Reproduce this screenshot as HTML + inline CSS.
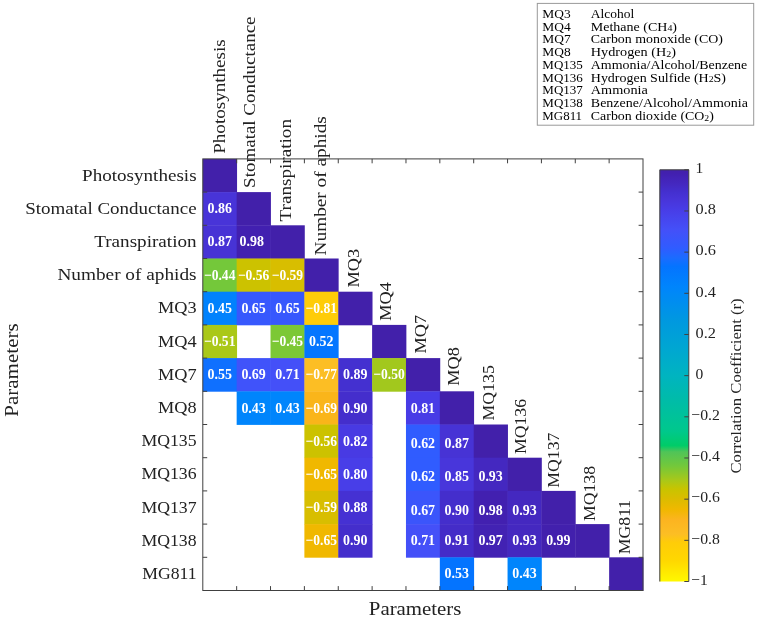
<!DOCTYPE html>
<html><head><meta charset="utf-8"><style>
html,body{margin:0;padding:0;background:#fff;}
svg{display:block;will-change:transform;}
text{font-family:"Liberation Serif",serif;}
</style></head><body>
<svg width="757" height="623" viewBox="0 0 757 623">
<rect x="0" y="0" width="757" height="623" fill="#fff"/>

<rect x="202.80" y="158.90" width="34.26" height="33.60" fill="#4220aa"/>
<rect x="202.80" y="192.10" width="34.26" height="33.60" fill="#4834d8"/>
<rect x="236.66" y="192.10" width="34.26" height="33.60" fill="#4220aa"/>
<rect x="202.80" y="225.30" width="34.26" height="33.60" fill="#4733d5"/>
<rect x="236.66" y="225.30" width="34.26" height="33.60" fill="#4220b0"/>
<rect x="270.52" y="225.30" width="34.26" height="33.60" fill="#4220aa"/>
<rect x="202.80" y="258.50" width="34.26" height="33.60" fill="#74c83a"/>
<rect x="236.66" y="258.50" width="34.26" height="33.60" fill="#ccc200"/>
<rect x="270.52" y="258.50" width="34.26" height="33.60" fill="#d8be00"/>
<rect x="304.38" y="258.50" width="34.26" height="33.60" fill="#4220aa"/>
<rect x="202.80" y="291.70" width="34.26" height="33.60" fill="#0182fd"/>
<rect x="236.66" y="291.70" width="34.26" height="33.60" fill="#3758fd"/>
<rect x="270.52" y="291.70" width="34.26" height="33.60" fill="#3758fd"/>
<rect x="304.38" y="291.70" width="34.26" height="33.60" fill="#ffcc08"/>
<rect x="338.25" y="291.70" width="34.26" height="33.60" fill="#4220aa"/>
<rect x="202.80" y="324.90" width="34.26" height="33.60" fill="#aac818"/>
<rect x="270.52" y="324.90" width="34.26" height="33.60" fill="#7cc835"/>
<rect x="304.38" y="324.90" width="34.26" height="33.60" fill="#0476ff"/>
<rect x="372.11" y="324.90" width="34.26" height="33.60" fill="#4220aa"/>
<rect x="202.80" y="358.10" width="34.26" height="33.60" fill="#0f70ff"/>
<rect x="236.66" y="358.10" width="34.26" height="33.60" fill="#4053fa"/>
<rect x="270.52" y="358.10" width="34.26" height="33.60" fill="#4450f8"/>
<rect x="304.38" y="358.10" width="34.26" height="33.60" fill="#fcbe24"/>
<rect x="338.25" y="358.10" width="34.26" height="33.60" fill="#4430d0"/>
<rect x="372.11" y="358.10" width="34.26" height="33.60" fill="#a2c81d"/>
<rect x="405.97" y="358.10" width="34.26" height="33.60" fill="#4220aa"/>
<rect x="236.66" y="391.30" width="34.26" height="33.60" fill="#0085fc"/>
<rect x="270.52" y="391.30" width="34.26" height="33.60" fill="#0085fc"/>
<rect x="304.38" y="391.30" width="34.26" height="33.60" fill="#fab51a"/>
<rect x="338.25" y="391.30" width="34.26" height="33.60" fill="#442ecc"/>
<rect x="405.97" y="391.30" width="34.26" height="33.60" fill="#483ce6"/>
<rect x="439.83" y="391.30" width="34.26" height="33.60" fill="#4220aa"/>
<rect x="304.38" y="424.50" width="34.26" height="33.60" fill="#ccc200"/>
<rect x="338.25" y="424.50" width="34.26" height="33.60" fill="#483ae3"/>
<rect x="405.97" y="424.50" width="34.26" height="33.60" fill="#305cff"/>
<rect x="439.83" y="424.50" width="34.26" height="33.60" fill="#4733d5"/>
<rect x="473.69" y="424.50" width="34.26" height="33.60" fill="#4220aa"/>
<rect x="304.38" y="457.70" width="34.26" height="33.60" fill="#f0b800"/>
<rect x="338.25" y="457.70" width="34.26" height="33.60" fill="#483ee8"/>
<rect x="405.97" y="457.70" width="34.26" height="33.60" fill="#305cff"/>
<rect x="439.83" y="457.70" width="34.26" height="33.60" fill="#4836db"/>
<rect x="473.69" y="457.70" width="34.26" height="33.60" fill="#4428c0"/>
<rect x="507.55" y="457.70" width="34.26" height="33.60" fill="#4220aa"/>
<rect x="304.38" y="490.90" width="34.26" height="33.60" fill="#d8be00"/>
<rect x="338.25" y="490.90" width="34.26" height="33.60" fill="#4531d3"/>
<rect x="405.97" y="490.90" width="34.26" height="33.60" fill="#3b55fb"/>
<rect x="439.83" y="490.90" width="34.26" height="33.60" fill="#442ecc"/>
<rect x="473.69" y="490.90" width="34.26" height="33.60" fill="#4220b0"/>
<rect x="507.55" y="490.90" width="34.26" height="33.60" fill="#4428c0"/>
<rect x="541.42" y="490.90" width="34.26" height="33.60" fill="#4220aa"/>
<rect x="304.38" y="524.10" width="34.26" height="33.60" fill="#f0b800"/>
<rect x="338.25" y="524.10" width="34.26" height="33.60" fill="#442ecc"/>
<rect x="405.97" y="524.10" width="34.26" height="33.60" fill="#4450f8"/>
<rect x="439.83" y="524.10" width="34.26" height="33.60" fill="#442cc8"/>
<rect x="473.69" y="524.10" width="34.26" height="33.60" fill="#4222b3"/>
<rect x="507.55" y="524.10" width="34.26" height="33.60" fill="#4428c0"/>
<rect x="541.42" y="524.10" width="34.26" height="33.60" fill="#4220ad"/>
<rect x="575.28" y="524.10" width="34.26" height="33.60" fill="#4220aa"/>
<rect x="439.83" y="557.30" width="34.26" height="33.60" fill="#0474ff"/>
<rect x="507.55" y="557.30" width="34.26" height="33.60" fill="#0085fc"/>
<rect x="609.14" y="557.30" width="34.26" height="33.60" fill="#4220aa"/>
<g fill="#fff" font-weight="bold" font-size="15" text-anchor="middle">
<text x="219.73" y="212.70" textLength="24.4" lengthAdjust="spacingAndGlyphs">0.86</text>
<text x="219.73" y="245.90" textLength="24.4" lengthAdjust="spacingAndGlyphs">0.87</text>
<text x="251.69" y="245.90" textLength="24.4" lengthAdjust="spacingAndGlyphs">0.98</text>
<text x="219.73" y="279.70" textLength="31.4" lengthAdjust="spacingAndGlyphs">−0.44</text>
<text x="253.59" y="279.70" textLength="31.4" lengthAdjust="spacingAndGlyphs">−0.56</text>
<text x="287.45" y="279.70" textLength="31.4" lengthAdjust="spacingAndGlyphs">−0.59</text>
<text x="219.73" y="312.90" textLength="24.4" lengthAdjust="spacingAndGlyphs">0.45</text>
<text x="253.59" y="312.90" textLength="24.4" lengthAdjust="spacingAndGlyphs">0.65</text>
<text x="287.45" y="312.90" textLength="24.4" lengthAdjust="spacingAndGlyphs">0.65</text>
<text x="321.32" y="312.90" textLength="31.4" lengthAdjust="spacingAndGlyphs">−0.81</text>
<text x="219.73" y="346.10" textLength="31.4" lengthAdjust="spacingAndGlyphs">−0.51</text>
<text x="287.45" y="346.10" textLength="31.4" lengthAdjust="spacingAndGlyphs">−0.45</text>
<text x="321.32" y="346.10" textLength="24.4" lengthAdjust="spacingAndGlyphs">0.52</text>
<text x="219.73" y="379.30" textLength="24.4" lengthAdjust="spacingAndGlyphs">0.55</text>
<text x="253.59" y="379.30" textLength="24.4" lengthAdjust="spacingAndGlyphs">0.69</text>
<text x="287.45" y="379.30" textLength="24.4" lengthAdjust="spacingAndGlyphs">0.71</text>
<text x="321.32" y="379.30" textLength="31.4" lengthAdjust="spacingAndGlyphs">−0.77</text>
<text x="355.18" y="379.30" textLength="24.4" lengthAdjust="spacingAndGlyphs">0.89</text>
<text x="389.04" y="379.30" textLength="31.4" lengthAdjust="spacingAndGlyphs">−0.50</text>
<text x="253.59" y="412.50" textLength="24.4" lengthAdjust="spacingAndGlyphs">0.43</text>
<text x="287.45" y="412.50" textLength="24.4" lengthAdjust="spacingAndGlyphs">0.43</text>
<text x="321.32" y="412.50" textLength="31.4" lengthAdjust="spacingAndGlyphs">−0.69</text>
<text x="355.18" y="412.50" textLength="24.4" lengthAdjust="spacingAndGlyphs">0.90</text>
<text x="422.90" y="413.30" textLength="24.4" lengthAdjust="spacingAndGlyphs">0.81</text>
<text x="321.32" y="445.70" textLength="31.4" lengthAdjust="spacingAndGlyphs">−0.56</text>
<text x="355.18" y="445.70" textLength="24.4" lengthAdjust="spacingAndGlyphs">0.82</text>
<text x="422.90" y="448.10" textLength="24.4" lengthAdjust="spacingAndGlyphs">0.62</text>
<text x="456.76" y="448.10" textLength="24.4" lengthAdjust="spacingAndGlyphs">0.87</text>
<text x="321.32" y="478.90" textLength="31.4" lengthAdjust="spacingAndGlyphs">−0.65</text>
<text x="355.18" y="478.90" textLength="24.4" lengthAdjust="spacingAndGlyphs">0.80</text>
<text x="422.90" y="481.30" textLength="24.4" lengthAdjust="spacingAndGlyphs">0.62</text>
<text x="456.76" y="481.30" textLength="24.4" lengthAdjust="spacingAndGlyphs">0.85</text>
<text x="490.62" y="481.30" textLength="24.4" lengthAdjust="spacingAndGlyphs">0.93</text>
<text x="321.32" y="512.10" textLength="31.4" lengthAdjust="spacingAndGlyphs">−0.59</text>
<text x="355.18" y="512.10" textLength="24.4" lengthAdjust="spacingAndGlyphs">0.88</text>
<text x="422.90" y="514.50" textLength="24.4" lengthAdjust="spacingAndGlyphs">0.67</text>
<text x="456.76" y="514.50" textLength="24.4" lengthAdjust="spacingAndGlyphs">0.90</text>
<text x="490.62" y="514.50" textLength="24.4" lengthAdjust="spacingAndGlyphs">0.98</text>
<text x="524.48" y="514.50" textLength="24.4" lengthAdjust="spacingAndGlyphs">0.93</text>
<text x="321.32" y="545.30" textLength="31.4" lengthAdjust="spacingAndGlyphs">−0.65</text>
<text x="355.18" y="545.30" textLength="24.4" lengthAdjust="spacingAndGlyphs">0.90</text>
<text x="422.90" y="545.30" textLength="24.4" lengthAdjust="spacingAndGlyphs">0.71</text>
<text x="456.76" y="545.30" textLength="24.4" lengthAdjust="spacingAndGlyphs">0.91</text>
<text x="490.62" y="545.30" textLength="24.4" lengthAdjust="spacingAndGlyphs">0.97</text>
<text x="524.48" y="545.30" textLength="24.4" lengthAdjust="spacingAndGlyphs">0.93</text>
<text x="558.35" y="545.30" textLength="24.4" lengthAdjust="spacingAndGlyphs">0.99</text>
<text x="456.76" y="577.90" textLength="24.4" lengthAdjust="spacingAndGlyphs">0.53</text>
<text x="524.48" y="577.90" textLength="24.4" lengthAdjust="spacingAndGlyphs">0.43</text>
</g>
<rect x="202.80" y="158.90" width="440.20" height="431.60" fill="none" stroke="#404040" stroke-width="1"/>
<path d="M236.66 158.90v4.4M236.66 590.50v-4.4M202.80 192.10h4.4M643.00 192.10h-4.4M270.52 158.90v4.4M270.52 590.50v-4.4M202.80 225.30h4.4M643.00 225.30h-4.4M304.38 158.90v4.4M304.38 590.50v-4.4M202.80 258.50h4.4M643.00 258.50h-4.4M338.25 158.90v4.4M338.25 590.50v-4.4M202.80 291.70h4.4M643.00 291.70h-4.4M372.11 158.90v4.4M372.11 590.50v-4.4M202.80 324.90h4.4M643.00 324.90h-4.4M405.97 158.90v4.4M405.97 590.50v-4.4M202.80 358.10h4.4M643.00 358.10h-4.4M439.83 158.90v4.4M439.83 590.50v-4.4M202.80 391.30h4.4M643.00 391.30h-4.4M473.69 158.90v4.4M473.69 590.50v-4.4M202.80 424.50h4.4M643.00 424.50h-4.4M507.55 158.90v4.4M507.55 590.50v-4.4M202.80 457.70h4.4M643.00 457.70h-4.4M541.42 158.90v4.4M541.42 590.50v-4.4M202.80 490.90h4.4M643.00 490.90h-4.4M575.28 158.90v4.4M575.28 590.50v-4.4M202.80 524.10h4.4M643.00 524.10h-4.4M609.14 158.90v4.4M609.14 590.50v-4.4M202.80 557.30h4.4M643.00 557.30h-4.4" stroke="#404040" stroke-width="1" fill="none"/>
<g fill="#222222" font-size="17.5">
<text x="196.6" y="180.50" text-anchor="end" textLength="114.5" lengthAdjust="spacingAndGlyphs">Photosynthesis</text>
<text x="196.6" y="213.70" text-anchor="end" textLength="171.4" lengthAdjust="spacingAndGlyphs">Stomatal Conductance</text>
<text x="196.6" y="246.90" text-anchor="end" textLength="102.4" lengthAdjust="spacingAndGlyphs">Transpiration</text>
<text x="196.6" y="280.10" text-anchor="end" textLength="139.2" lengthAdjust="spacingAndGlyphs">Number of aphids</text>
<text x="196.6" y="313.30" text-anchor="end" textLength="38.6" lengthAdjust="spacingAndGlyphs">MQ3</text>
<text x="196.6" y="346.50" text-anchor="end" textLength="38.6" lengthAdjust="spacingAndGlyphs">MQ4</text>
<text x="196.6" y="379.70" text-anchor="end" textLength="38.6" lengthAdjust="spacingAndGlyphs">MQ7</text>
<text x="196.6" y="412.90" text-anchor="end" textLength="38.6" lengthAdjust="spacingAndGlyphs">MQ8</text>
<text x="196.6" y="446.10" text-anchor="end" textLength="55.2" lengthAdjust="spacingAndGlyphs">MQ135</text>
<text x="196.6" y="479.30" text-anchor="end" textLength="55.2" lengthAdjust="spacingAndGlyphs">MQ136</text>
<text x="196.6" y="512.50" text-anchor="end" textLength="55.2" lengthAdjust="spacingAndGlyphs">MQ137</text>
<text x="196.6" y="545.70" text-anchor="end" textLength="55.2" lengthAdjust="spacingAndGlyphs">MQ138</text>
<text x="196.6" y="578.90" text-anchor="end" textLength="54.4" lengthAdjust="spacingAndGlyphs">MG811</text>
<text transform="translate(225.00 153.80) rotate(-90)" x="0" y="0" textLength="114.5" lengthAdjust="spacingAndGlyphs">Photosynthesis</text>
<text transform="translate(255.10 187.90) rotate(-90)" x="0" y="0" textLength="171.4" lengthAdjust="spacingAndGlyphs">Stomatal Conductance</text>
<text transform="translate(291.20 221.40) rotate(-90)" x="0" y="0" textLength="102.4" lengthAdjust="spacingAndGlyphs">Transpiration</text>
<text transform="translate(325.50 255.40) rotate(-90)" x="0" y="0" textLength="139.2" lengthAdjust="spacingAndGlyphs">Number of aphids</text>
<text transform="translate(358.50 287.50) rotate(-90)" x="0" y="0" textLength="38.6" lengthAdjust="spacingAndGlyphs">MQ3</text>
<text transform="translate(390.60 320.70) rotate(-90)" x="0" y="0" textLength="38.6" lengthAdjust="spacingAndGlyphs">MQ4</text>
<text transform="translate(426.20 353.50) rotate(-90)" x="0" y="0" textLength="38.6" lengthAdjust="spacingAndGlyphs">MQ7</text>
<text transform="translate(459.20 385.80) rotate(-90)" x="0" y="0" textLength="38.6" lengthAdjust="spacingAndGlyphs">MQ8</text>
<text transform="translate(494.20 420.40) rotate(-90)" x="0" y="0" textLength="55.2" lengthAdjust="spacingAndGlyphs">MQ135</text>
<text transform="translate(526.40 454.10) rotate(-90)" x="0" y="0" textLength="55.2" lengthAdjust="spacingAndGlyphs">MQ136</text>
<text transform="translate(559.40 487.80) rotate(-90)" x="0" y="0" textLength="55.2" lengthAdjust="spacingAndGlyphs">MQ137</text>
<text transform="translate(595.20 521.10) rotate(-90)" x="0" y="0" textLength="55.2" lengthAdjust="spacingAndGlyphs">MQ138</text>
<text transform="translate(629.60 554.20) rotate(-90)" x="0" y="0" textLength="54.4" lengthAdjust="spacingAndGlyphs">MG811</text>
</g>
<text x="368.8" y="614.9" font-size="18" fill="#222222" textLength="92.6" lengthAdjust="spacingAndGlyphs">Parameters</text>
<text transform="translate(18.3 416.8) rotate(-90)" font-size="18" fill="#222222" textLength="93.5" lengthAdjust="spacingAndGlyphs">Parameters</text>
<defs><linearGradient id="cb" x1="0" y1="0" x2="0" y2="1"><stop offset="0.00%" stop-color="#4220aa"/><stop offset="1.00%" stop-color="#4220b0"/><stop offset="3.50%" stop-color="#4428c0"/><stop offset="5.50%" stop-color="#4430d0"/><stop offset="7.00%" stop-color="#4834d8"/><stop offset="9.50%" stop-color="#483ce6"/><stop offset="14.50%" stop-color="#4450f8"/><stop offset="19.00%" stop-color="#305cff"/><stop offset="21.50%" stop-color="#1a6cff"/><stop offset="23.50%" stop-color="#0474ff"/><stop offset="28.50%" stop-color="#0085fc"/><stop offset="36.50%" stop-color="#0098e0"/><stop offset="44.00%" stop-color="#00a8d0"/><stop offset="50.00%" stop-color="#00b4c0"/><stop offset="56.00%" stop-color="#00bca8"/><stop offset="63.50%" stop-color="#00c88c"/><stop offset="67.00%" stop-color="#00cc68"/><stop offset="68.50%" stop-color="#50c458"/><stop offset="72.00%" stop-color="#74c83a"/><stop offset="75.50%" stop-color="#aac818"/><stop offset="77.50%" stop-color="#c8c400"/><stop offset="80.00%" stop-color="#dcbc00"/><stop offset="82.50%" stop-color="#f0b800"/><stop offset="85.00%" stop-color="#fcb420"/><stop offset="88.50%" stop-color="#fcbe24"/><stop offset="90.50%" stop-color="#ffcc08"/><stop offset="95.00%" stop-color="#ffd800"/><stop offset="100.00%" stop-color="#fff800"/></linearGradient></defs>
<rect x="659.8" y="169.8" width="29.00" height="411.70" fill="url(#cb)"/>
<path d="M659.8 581.5V169.8H688.8V581.5" fill="none" stroke="#404040" stroke-width="1"/>
<path d="M688.80 169.80h-4.5M688.80 210.97h-4.5M688.80 252.14h-4.5M688.80 293.31h-4.5M688.80 334.48h-4.5M688.80 375.65h-4.5M688.80 416.82h-4.5M688.80 457.99h-4.5M688.80 499.16h-4.5M688.80 540.33h-4.5M688.80 581.50h-4.5" stroke="#404040" stroke-width="1"/>
<g fill="#222222" font-size="15.5"><text x="695.6" y="173.10">1</text><text x="695.6" y="214.27" textLength="20.4" lengthAdjust="spacingAndGlyphs">0.8</text><text x="695.6" y="255.44" textLength="20.4" lengthAdjust="spacingAndGlyphs">0.6</text><text x="695.6" y="296.61" textLength="20.4" lengthAdjust="spacingAndGlyphs">0.4</text><text x="695.6" y="337.78" textLength="20.4" lengthAdjust="spacingAndGlyphs">0.2</text><text x="695.6" y="378.95">0</text><text x="691.3" y="420.12" textLength="28.6" lengthAdjust="spacingAndGlyphs">−0.2</text><text x="691.3" y="461.29" textLength="28.6" lengthAdjust="spacingAndGlyphs">−0.4</text><text x="691.3" y="502.46" textLength="28.6" lengthAdjust="spacingAndGlyphs">−0.6</text><text x="691.3" y="543.63" textLength="28.6" lengthAdjust="spacingAndGlyphs">−0.8</text><text x="691.3" y="584.80">−1</text></g>
<text transform="translate(740.5 473.5) rotate(-90)" font-size="15" fill="#222222" textLength="175" lengthAdjust="spacingAndGlyphs">Correlation Coefficient (r)</text>
<rect x="537.3" y="3.4" width="216.4" height="121.8" fill="#fff" stroke="#999" stroke-width="1"/>
<g fill="#000" font-size="12.8">
<text x="542.3" y="17.80" textLength="28.4" lengthAdjust="spacingAndGlyphs">MQ3</text><text x="590.8" y="17.80" textLength="43.5" lengthAdjust="spacingAndGlyphs">Alcohol</text>
<text x="542.3" y="30.58" textLength="28.4" lengthAdjust="spacingAndGlyphs">MQ4</text><text x="590.8" y="30.58" textLength="86.2" lengthAdjust="spacingAndGlyphs">Methane (CH<tspan font-size="9" dy="0.6">4</tspan><tspan dy="-0.6">)</tspan></text>
<text x="542.3" y="43.36" textLength="28.4" lengthAdjust="spacingAndGlyphs">MQ7</text><text x="590.8" y="43.36" textLength="132.1" lengthAdjust="spacingAndGlyphs">Carbon monoxide (CO)</text>
<text x="542.3" y="56.14" textLength="28.4" lengthAdjust="spacingAndGlyphs">MQ8</text><text x="590.8" y="56.14" textLength="85.2" lengthAdjust="spacingAndGlyphs">Hydrogen (H<tspan font-size="9" dy="0.6">2</tspan><tspan dy="-0.6">)</tspan></text>
<text x="542.3" y="68.92" textLength="40.6" lengthAdjust="spacingAndGlyphs">MQ135</text><text x="590.8" y="68.92" textLength="156.5" lengthAdjust="spacingAndGlyphs">Ammonia/Alcohol/Benzene</text>
<text x="542.3" y="81.70" textLength="40.6" lengthAdjust="spacingAndGlyphs">MQ136</text><text x="590.8" y="81.70" textLength="135.2" lengthAdjust="spacingAndGlyphs">Hydrogen Sulfide (H<tspan font-size="9" dy="0.6">2</tspan><tspan dy="-0.6">S)</tspan></text>
<text x="542.3" y="94.48" textLength="40.6" lengthAdjust="spacingAndGlyphs">MQ137</text><text x="590.8" y="94.48" textLength="57.0" lengthAdjust="spacingAndGlyphs">Ammonia</text>
<text x="542.3" y="107.26" textLength="40.6" lengthAdjust="spacingAndGlyphs">MQ138</text><text x="590.8" y="107.26" textLength="157.1" lengthAdjust="spacingAndGlyphs">Benzene/Alcohol/Ammonia</text>
<text x="542.3" y="120.04" textLength="39.8" lengthAdjust="spacingAndGlyphs">MG811</text><text x="590.8" y="120.04" textLength="123.1" lengthAdjust="spacingAndGlyphs">Carbon dioxide (CO<tspan font-size="9" dy="0.6">2</tspan><tspan dy="-0.6">)</tspan></text>
</g>
</svg></body></html>
